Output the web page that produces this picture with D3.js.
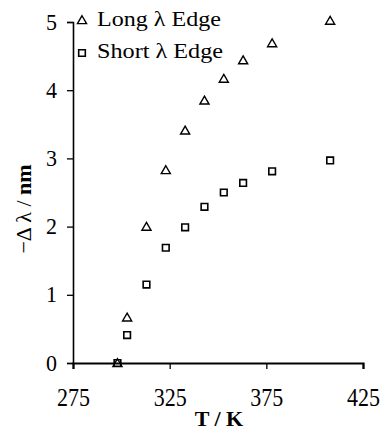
<!DOCTYPE html>
<html>
<head>
<meta charset="utf-8">
<script src="https://cdn.jsdelivr.net/npm/d3@7"></script>
<style>
  html, body { margin: 0; padding: 0; background: #fff; }
  svg text { font-family: "Liberation Serif", "Times New Roman", serif; fill: #000; }
</style>
</head>
<body>
<div id="chart"></div>
<script>
// temperatures (K)
const temps = [298, 303, 313, 323, 333, 343, 353, 363, 378, 408];
// -Δλ (nm)
const longEdge = [0, 0.67, 2.0, 2.83, 3.41, 3.85, 4.17, 4.44, 4.69, 5.02];
const shortEdge = [0, 0.41, 1.15, 1.69, 1.99, 2.29, 2.50, 2.64, 2.81, 2.97];
const xTicks = [275, 325, 375, 425];
const yTicks = [0, 1, 2, 3, 4, 5];
const seriesNames = ['Long \u03bb Edge', 'Short \u03bb Edge'];

const width = 384, height = 430;
const margin = { top: 22, right: 21, bottom: 67, left: 73 };

const svg = d3.select('#chart')
    .append('svg')
    .attr('width', width)
    .attr('height', height);

const x = d3.scaleLinear().domain([275, 425]).range([margin.left, width - margin.right]);
const y = d3.scaleLinear().domain([0, 5]).range([height - margin.bottom, margin.top]);

const xAxis = svg.append('g')
    .attr('transform', `translate(0,${y(0)})`)
    .call(d3.axisBottom(x).tickValues(xTicks).tickSize(6).tickPadding(8).tickFormat(d3.format('d')));
xAxis.select('.domain').attr('stroke-width', 2.2);
xAxis.selectAll('.tick line').attr('stroke-width', 1.3);
xAxis.selectAll('text')
    .attr('font-size', 22)
    .attr('y', 0).attr('dy', null)
    .attr('transform', 'translate(0,43) scale(1,1.15)');

const yAxis = svg.append('g')
    .attr('transform', `translate(${x(275)},0)`)
    .call(d3.axisLeft(y).tickValues(yTicks).tickSize(6).tickPadding(10).tickFormat(d3.format('d')));
yAxis.select('.domain').attr('stroke-width', 1.6);
yAxis.selectAll('.tick line').attr('stroke-width', 1.3);
yAxis.selectAll('text')
    .attr('font-size', 22)
    .attr('dy', null)
    .attr('transform', 'translate(0,7) scale(1,1.08)');

// axis titles
svg.append('text')
    .attr('x', 219).attr('y', 426)
    .attr('text-anchor', 'middle')
    .attr('font-size', 22).attr('font-weight', 'bold')
    .text('T / K');

const yl = svg.append('text')
    .attr('transform', `translate(31,209) rotate(-90)`)
    .attr('text-anchor', 'middle')
    .attr('font-size', 22);
yl.append('tspan').text('\u2212\u0394 \u03bb / ');
yl.append('tspan').attr('font-weight', 'bold').text('nm');

const tri = d3.symbol().type(d3.symbolTriangle).size(36);
const sq = d3.symbol().type(d3.symbolSquare).size(44);

svg.append('g').selectAll('path')
    .data(temps.map((t, i) => [t, shortEdge[i]]))
    .join('path')
    .attr('d', sq)
    .attr('transform', d => `translate(${x(d[0])},${y(d[1])})`)
    .attr('fill', 'none').attr('stroke', '#000').attr('stroke-width', 1.6);

svg.append('g').selectAll('path')
    .data(temps.map((t, i) => [t, longEdge[i]]))
    .join('path')
    .attr('d', tri)
    .attr('transform', d => `translate(${x(d[0])},${y(d[1]) + 1})`)
    .attr('fill', 'none').attr('stroke', '#000').attr('stroke-width', 1.4);

// legend
const legend = svg.append('g');
seriesNames.forEach((name, i) => {
    const ly = 21 + i * 32;
    legend.append('path')
        .attr('d', i === 0 ? tri : sq)
        .attr('transform', `translate(82,${ly})`)
        .attr('fill', 'none').attr('stroke', '#000')
        .attr('stroke-width', i === 0 ? 1.4 : 1.6);
    legend.append('text')
        .attr('x', 97).attr('y', ly + 5)
        .attr('font-size', 21)
        .attr('textLength', i === 0 ? 124 : 126)
        .attr('lengthAdjust', 'spacingAndGlyphs')
        .text(name);
});
</script>
</body>
</html>
